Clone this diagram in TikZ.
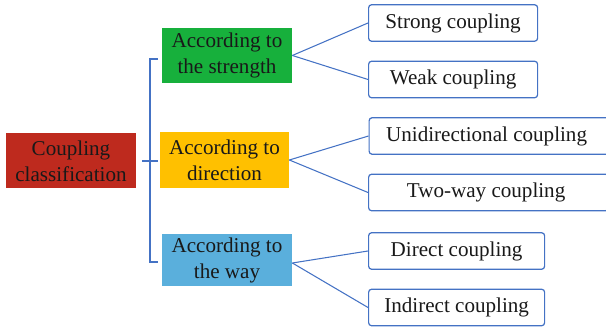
\documentclass[tikz,border=0pt]{standalone}
\usepackage{fontspec}
\setmainfont{Liberation Serif}
\definecolor{linkblue}{HTML}{4472C4}
\definecolor{catred}{HTML}{BE2A1E}
\definecolor{catgreen}{HTML}{17B03C}
\definecolor{catyellow}{HTML}{FFC000}
\definecolor{catblue}{HTML}{5AAFDC}
\begin{document}
\begin{tikzpicture}[
  every node/.style={font=\fontsize{12}{14.8}\selectfont, text=black!90, inner sep=0pt, align=center},
  rootbox/.style={fill=catred, minimum width=2.6cm, minimum height=1.1cm},
  catbox/.style={minimum width=2.6cm, minimum height=1.1cm},
  leafbox/.style={draw=linkblue, line width=0.7pt, rounded corners=0.06cm, fill=white, anchor=west, minimum height=0.73cm},
  link/.style={draw=linkblue, line width=0.6pt}
]
\useasboundingbox (0,0) rectangle (12.12,6.56);
\node [rootbox] (root) at (1.42,3.34) {Coupling\\classification};
\node [catbox, fill=catgreen] (strength) at (4.54,5.45) {According to\\the strength};
\node [catbox, fill=catyellow, minimum width=2.58cm, minimum height=1.12cm] (direction) at (4.49,3.36) {According to\\direction};
\node [catbox, fill=catblue, minimum height=1.04cm] (way) at (4.54,1.36) {According to\\the way};
\node [leafbox, minimum width=3.38cm] (strong) at (7.36,6.10) {Strong coupling};
\node [leafbox, minimum width=3.38cm] (weak) at (7.36,4.97) {Weak coupling};
\node [leafbox, minimum width=4.8cm] (uni) at (7.37,3.84) {Unidirectional coupling\hspace{0.1cm}};
\node [leafbox, minimum width=4.8cm] (twoway) at (7.36,2.71) {Two-way coupling\hspace{0.1cm}};
\node [leafbox, minimum width=3.52cm] (direct) at (7.36,1.54) {Direct coupling};
\node [leafbox, minimum width=3.52cm] (indirect) at (7.36,0.41) {Indirect coupling};
\coordinate (brtop) at (3.16,5.38);
\coordinate (brmid) at (3.00,3.34);
\coordinate (brbot) at (3.16,1.32);
\draw [link] (brtop) -| (brmid) |- (brbot);
\draw [link, shorten <=0.12cm, shorten >=0.03cm] (root.east) -- (root.east -| direction.west);
\draw [link] (strength.east) -- (strong.west);
\draw [link] (strength.east) -- (weak.west);
\draw [link] (direction.east) -- (uni.west);
\draw [link] (direction.east) -- (twoway.west);
\draw [link] ([yshift=-0.06cm]way.east) -- (direct.west);
\draw [link] ([yshift=-0.06cm]way.east) -- (indirect.west);
\end{tikzpicture}
\end{document}
